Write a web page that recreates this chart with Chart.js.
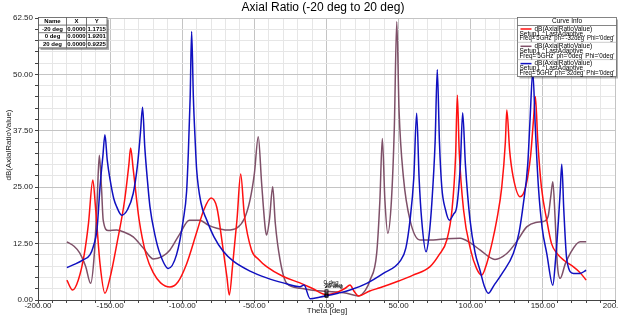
<!DOCTYPE html>
<html>
<head>
<meta charset="utf-8">
<script src="https://cdn.jsdelivr.net/npm/chart.js@4.4.1/dist/chart.umd.min.js"></script>
<style>
  html, body { margin: 0; padding: 0; background: #fff; }
  #wrap { width: 618px; height: 315px; }
</style>
</head>
<body>
<div id="wrap"><canvas id="arChart"></canvas></div>
<script>
// Axial ratio vs theta, three phase settings
const thetaRed = [-180, -176, -172, -168, -165, -162, -160, -157, -153.6, -150, -145, -140, -137, -135.8, -134, -130, -125, -120, -115, -108.5, -103, -97, -90, -85, -80, -76, -72, -69, -67.4, -65, -62, -59.5, -57, -52, -47, -41.5, -30, -18.4, -10, 0, 8, 13, 16.3, 19, 22, 30, 37, 50, 60, 71.8, 78, 83.4, 87, 89.5, 90.7, 92, 95, 100, 104, 107.6, 111, 115, 118, 121.5, 124, 125, 127, 129.4, 134.2, 138, 141.5, 143.5, 144.8, 146.5, 149, 152.7, 156, 159.6, 165, 171, 176, 180];
const arRed = [4.4, 2.2, 4.5, 10, 17, 26.6, 20, 8, 1.5, 5, 13, 22, 30, 33.7, 29, 18, 10, 6, 3.8, 2.9, 4, 8, 15, 20, 22.6, 20.5, 12, 5, 1.1, 8, 18, 27.9, 19, 11.1, 9, 7.4, 5.2, 3.8, 2.6, 1.17, 1.8, 2.6, 3.3, 2, 0.9, 2.0, 2.7, 4.2, 5.5, 7.4, 10, 13.3, 20, 32, 45.4, 33, 20, 11, 7, 5.5, 8, 13, 17.7, 25, 35, 42.1, 33, 27.3, 22.9, 25, 32, 40, 45.1, 35, 25, 17.7, 12.5, 10.4, 8.7, 7.4, 6, 4.4];

const thetaMid = [-180, -175, -171, -167, -163.5, -161, -159, -157.5, -156, -154.8, -151.3, -145.5, -140, -134, -127, -120, -114, -108.5, -102, -95, -88, -82, -76, -69, -62, -57, -53, -50, -47.3, -45, -42.5, -41.5, -39.5, -37.3, -35.5, -32.2, -27.6, -18.4, -8, 0, 14, 22, 27, 30.2, 34.8, 37, 38.7, 40.5, 42.5, 45, 47, 48.7, 50.3, 53.3, 57.9, 64.8, 74, 83, 92.6, 100, 106.4, 116.8, 125, 132, 138.8, 145, 150.3, 153.6, 155.5, 156.9, 158.5, 160, 162, 165.5, 168.9, 175.8, 180];
const arMid = [12.9, 11.9, 10.4, 7.5, 3.7, 10, 22, 32.1, 25, 17.7, 15.4, 15.5, 15, 14.0, 11.5, 9.1, 9.6, 11.1, 14.5, 17.7, 17.7, 16.6, 15.9, 15.5, 16, 18, 22.2, 28, 36.2, 26, 16, 14.4, 18, 25.1, 17, 8.9, 3.7, 2.6, 2.1, 1.92, 1.5, 0.9, 2.2, 4.4, 10.4, 22, 35.8, 22, 14.8, 22, 38, 61.7, 42, 27.3, 17.7, 13.3, 13.3, 13.6, 13.7, 12.6, 11.1, 9.0, 10.3, 13, 16.2, 17.2, 17.4, 18.5, 23, 26.2, 18, 8, 4.8, 8, 10.3, 12.9, 12.9];

const thetaBlue = [-180, -174, -168.7, -164, -161.7, -159, -157, -155, -153.6, -152, -150, -147.5, -145.5, -142, -138, -134, -131, -129, -127.5, -126, -124, -122.4, -119, -115.5, -109.7, -104, -99.3, -97, -95.8, -94.5, -93.5, -92.3, -91, -90, -87, -83, -78, -71.6, -64.6, -53, -41.5, -30, -18.4, -15.6, -11.4, -5, 0, 8, 16.3, 27.9, 39.4, 51, 55, 57.9, 60.5, 62.5, 64.2, 66, 69, 71, 73, 75.3, 76.8, 78.3, 79.9, 82.5, 85.2, 88, 90.3, 92.8, 94.4, 96.3, 99.5, 103, 106.4, 109.5, 112.2, 116, 122, 129.5, 133.5, 136.5, 139.5, 141.1, 143, 144.8, 146.9, 149.5, 152.7, 156.9, 158.8, 160.8, 162, 163.1, 164.5, 166.6, 171.2, 175.8, 180];
const arBlue = [7.2, 8, 8.9, 10, 11.8, 16, 25.1, 32, 36.6, 31, 26.6, 22.5, 20.7, 18.8, 20, 23.6, 30, 37, 42.7, 34, 26, 20.7, 14.5, 10.3, 7.0, 10, 17.7, 24, 32.5, 45, 59.5, 45, 35, 28.8, 21.5, 17.7, 14, 10.8, 8.6, 6.4, 4.9, 3.8, 2.95, 3.3, 0.3, 0.6, 0.92, 1.5, 2.2, 3.7, 5.9, 8.6, 11.5, 17.7, 27, 41.4, 27, 17.7, 10.7, 14, 21.4, 35, 51.1, 35, 25.1, 20, 17.7, 19, 20.7, 30, 41.5, 30, 17.7, 10.5, 6.6, 3, 1.5, 3.2, 6, 10.3, 15, 21.4, 30, 39.9, 50.6, 38, 25.1, 16, 10.3, 3.3, 9, 17.7, 24, 30.1, 20, 8.9, 5.9, 5.9, 6.6];

const curveNames = ["dB(AxialRatioValue)", "dB(AxialRatioValue)", "dB(AxialRatioValue)"];
const curveFreqs = ["Freq='5GHz' ph='-32deg' Phi='0deg'", "Freq='5GHz' ph='0deg' Phi='0deg'", "Freq='5GHz' ph='32deg' Phi='0deg'"];
const curveColors = ['#ff1010', '#7e5068', '#1010c0'];

const markerNames = ['-20 deg', '0 deg', '20 deg'];
const markerX = ['0.0000', '0.0000', '0.0000'];
const markerY = ['1.1715', '1.9201', '0.9225'];

function pts(xs, ys) {
    return xs.map((x, i) => ({ x: x, y: ys[i] }));
}

const FONT = 'Liberation Sans';

const overlay = {
    id: 'overlay',
    afterDraw(chart) {
        const c = chart.ctx;
        const xs = chart.scales.x, ys = chart.scales.y;
        c.save();

        // title
        c.fillStyle = '#000';
        c.font = '12px ' + FONT;
        c.textAlign = 'center';
        c.textBaseline = 'middle';
        c.fillText('Axial Ratio (-20 deg to 20 deg)', 323, 8);

        // axis titles
        c.font = '8px ' + FONT;
        c.fillStyle = '#222';
        c.fillText('Theta [deg]', 327, 311);
        c.save();
        c.translate(9, 145);
        c.rotate(-Math.PI / 2);
        c.fillText('dB(AxialRatioValue)', 0, 0);
        c.restore();

        // marker labels on the curves at theta = 0
        const mx = xs.getPixelForValue(0);
        c.font = '6px ' + FONT;
        c.textAlign = 'left';
        c.fillStyle = '#000';
        c.fillText('0 deg', mx - 3, 282);
        c.fillText('-20deg', mx - 3, 285);
        c.fillText('20 deg', mx - 2, 286.5);
        c.strokeStyle = '#000';
        c.lineWidth = 0.8;
        [1.1715, 1.9201, 0.9225].forEach(v => {
            c.strokeRect(mx - 1.5, ys.getPixelForValue(v) - 1.5, 3, 3);
        });

        // marker table
        const tx = 38.5, ty = 17.5, cw = [28, 20, 20.5], rh = 7.6;
        const tw = cw[0] + cw[1] + cw[2], th = rh * 4;
        c.fillStyle = 'rgba(0,0,0,0.35)';
        c.fillRect(tx + 2, ty + 2, tw, th);
        c.fillStyle = '#fff';
        c.fillRect(tx, ty, tw, th);
        c.strokeStyle = '#555';
        c.lineWidth = 0.8;
        c.strokeRect(tx, ty, tw, th);
        for (let r = 1; r < 4; r++) {
            c.beginPath(); c.moveTo(tx, ty + r * rh); c.lineTo(tx + tw, ty + r * rh); c.stroke();
        }
        c.beginPath(); c.moveTo(tx + cw[0], ty); c.lineTo(tx + cw[0], ty + th); c.stroke();
        c.beginPath(); c.moveTo(tx + cw[0] + cw[1], ty); c.lineTo(tx + cw[0] + cw[1], ty + th); c.stroke();
        c.fillStyle = '#000';
        c.font = 'bold 6px ' + FONT;
        c.textAlign = 'center';
        c.textBaseline = 'middle';
        const colC = [tx + cw[0] / 2, tx + cw[0] + cw[1] / 2, tx + cw[0] + cw[1] + cw[2] / 2];
        ['Name', 'X', 'Y'].forEach((h, i) => c.fillText(h, colC[i], ty + rh / 2));
        for (let r = 0; r < 3; r++) {
            const yy = ty + rh * (r + 1.5);
            c.fillText(markerNames[r], colC[0], yy, cw[0] - 2);
            c.fillText(markerX[r], colC[1], yy, cw[1] - 1);
            c.fillText(markerY[r], colC[2], yy, cw[2] - 1);
        }

        // curve info box
        const lx = 517.5, ly = 17.5, lw = 99, lh = 59;
        c.fillStyle = 'rgba(0,0,0,0.3)';
        c.fillRect(lx + 2, ly + 2, lw, lh);
        c.fillStyle = '#fff';
        c.fillRect(lx, ly, lw, lh);
        c.strokeStyle = '#666';
        c.strokeRect(lx, ly, lw, lh);
        c.fillStyle = '#000';
        c.font = '6.5px ' + FONT;
        c.textAlign = 'center';
        c.fillText('Curve Info', lx + lw / 2, ly + 4);
        c.beginPath(); c.moveTo(lx, ly + 8); c.lineTo(lx + lw, ly + 8); c.stroke();
        for (let i = 0; i < 3; i++) {
            const by = ly + 11.5 + i * 17.3;
            c.strokeStyle = curveColors[i];
            c.lineWidth = 1.5;
            c.beginPath(); c.moveTo(lx + 3, by); c.lineTo(lx + 14, by); c.stroke();
            c.fillStyle = '#000';
            c.textAlign = 'left';
            c.fillText(curveNames[i], lx + 17, by, lw - 19);
            c.fillText('Setup1 : LastAdaptive', lx + 2, by + 4.8, lw - 4);
            c.fillText(curveFreqs[i], lx + 2, by + 9.6, lw - 4);
            if (i < 2) {
                c.strokeStyle = '#aaa';
                c.lineWidth = 0.6;
                c.beginPath(); c.moveTo(lx, by + 13.3); c.lineTo(lx + lw, by + 13.3); c.stroke();
            }
        }
        c.restore();
    }
};

const ds = (label, xs, ys, color, order) => ({
    label: label,
    data: pts(xs, ys),
    borderColor: color,
    backgroundColor: color,
    borderWidth: 1.5,
    pointRadius: 0,
    cubicInterpolationMode: 'monotone',
    order: order
});

new Chart(document.getElementById('arChart'), {
    type: 'line',
    data: {
        datasets: [
            ds(curveFreqs[2], thetaBlue, arBlue, curveColors[2], 0),
            ds(curveFreqs[0], thetaRed, arRed, curveColors[0], 1),
            ds(curveFreqs[1], thetaMid, arMid, curveColors[1], 2)
        ]
    },
    options: {
        responsive: true,
        maintainAspectRatio: false,
        animation: false,
        layout: { padding: { top: 18, right: 3, left: 0, bottom: 0 } },
        plugins: {
            legend: { display: false },
            title: { display: false },
            tooltip: { enabled: false }
        },
        scales: {
            x: {
                type: 'linear',
                min: -200,
                max: 200,
                afterFit(s) { s.height = 15; s.paddingLeft = 0; s.paddingRight = 0; },
                ticks: {
                    stepSize: 10,
                    autoSkip: false,
                    maxRotation: 0,
                    padding: -2,
                    color: '#222',
                    font: { family: FONT, size: 8 },
                    callback: v => (v % 50 === 0 ? v.toFixed(2) : '')
                },
                grid: {
                    color: ctx => (ctx.tick && ctx.tick.value % 50 === 0 ? '#c4c4c4' : '#e6e6e6'),
                    tickColor: '#444',
                    tickLength: 3
                },
                border: { color: '#444' }
            },
            y: {
                min: 0,
                max: 62.5,
                afterFit(s) { s.width = 38; s.paddingTop = 0; s.paddingBottom = 0; },
                ticks: {
                    stepSize: 2.5,
                    autoSkip: false,
                    padding: 2,
                    color: '#222',
                    font: { family: FONT, size: 8 },
                    callback: v => (v % 12.5 === 0 ? v.toFixed(2) : '')
                },
                grid: {
                    color: ctx => (ctx.tick && ctx.tick.value % 12.5 === 0 ? '#c4c4c4' : '#e6e6e6'),
                    tickColor: '#444',
                    tickLength: 3
                },
                border: { color: '#444' }
            }
        }
    },
    plugins: [overlay]
});
</script>
</body>
</html>
